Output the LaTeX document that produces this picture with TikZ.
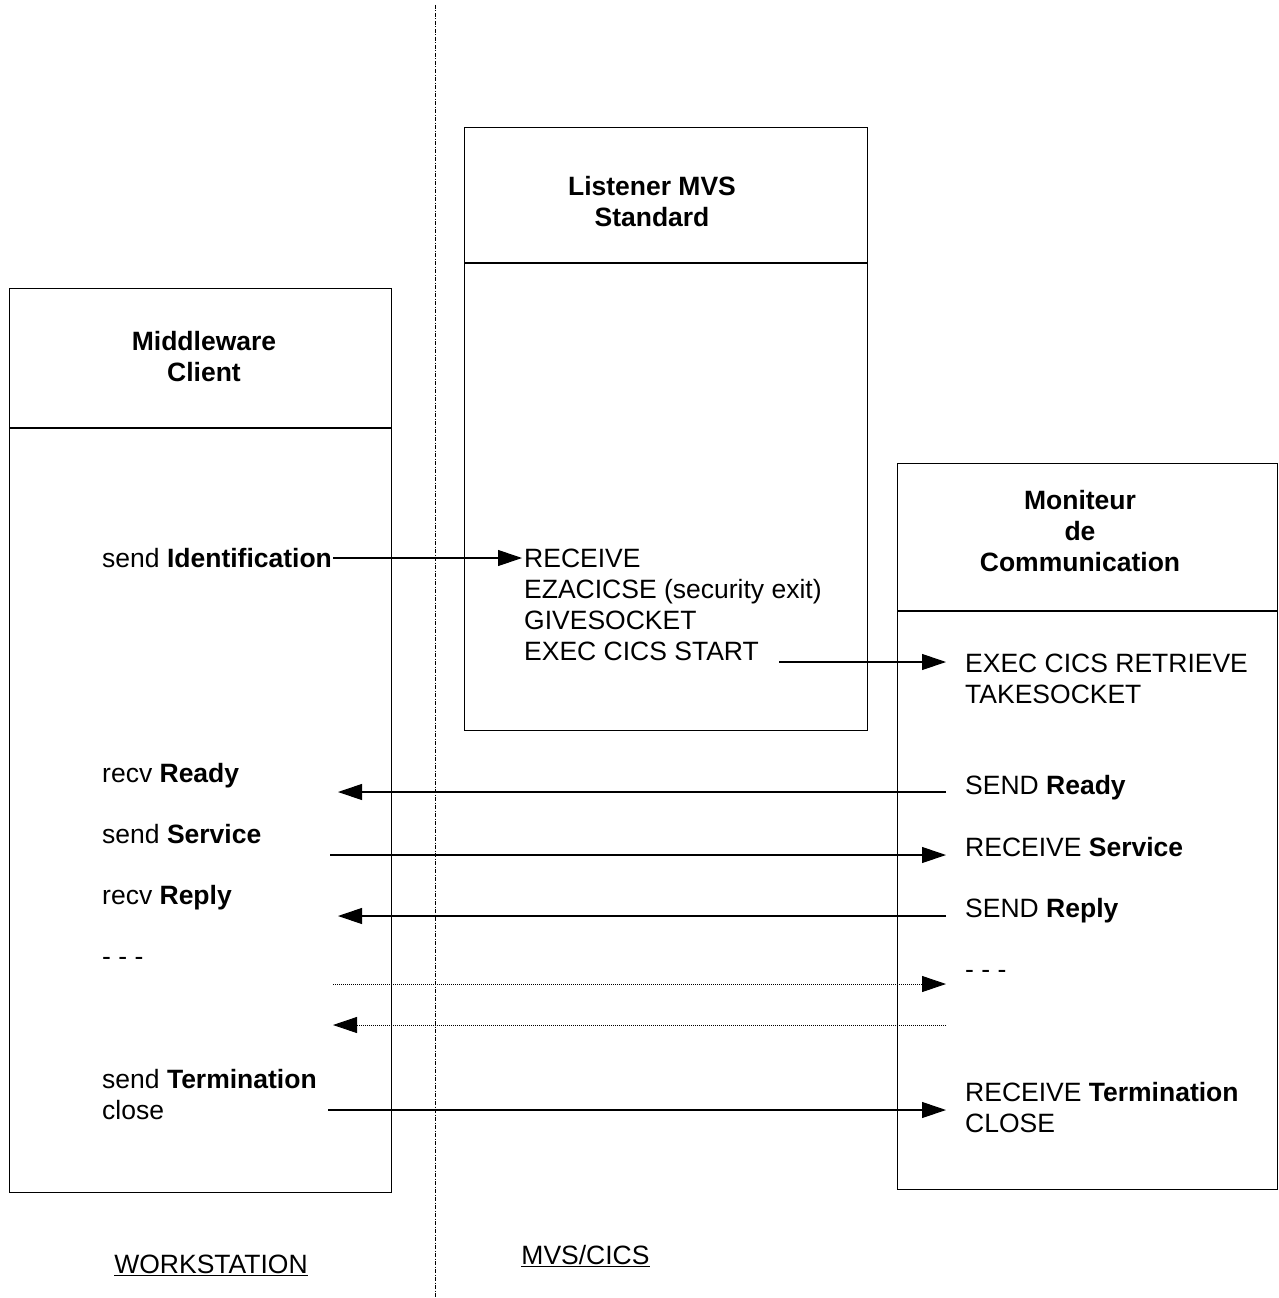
\documentclass[tikz,border=0pt]{standalone}
\usepackage{fontspec}
\setmainfont{Liberation Sans}
\usetikzlibrary{arrows.meta}
\begin{document}
\begin{tikzpicture}[x=1pt,y=-1pt,
  box/.style={draw,line width=1.1pt,inner sep=0pt,anchor=north west},
  rule/.style={line width=1.1pt},
  txt/.style={anchor=base west,inner sep=0pt,font=\fontsize{26.5}{31}\selectfont},
  ttl/.style={anchor=base,inner sep=0pt,font=\fontsize{26.5}{31}\selectfont\bfseries},
  lbl/.style={anchor=base,inner sep=0pt,font=\fontsize{26.5}{31}\selectfont},
  msg/.style={line width=1.1pt,-{Triangle[length=24pt,width=16pt]}},
  dmsg/.style={line width=0.9pt,dash pattern=on 1pt off 1pt,-{Triangle[length=24pt,width=16pt,sep=0pt]}},
  sep/.style={line width=0.9pt,dash pattern=on 4pt off 1.5pt on 1pt off 1.5pt}]
\useasboundingbox (0,0) rectangle (1279,1298);

% separator
\coordinate (septop) at (435,5);
\coordinate (sepbot) at (435,1298);
\draw[sep] (septop) -- (sepbot);

% boxes
\node[box,minimum width=382pt,minimum height=904pt] (mc) at (9,288) {};
\draw[rule] (9,428) -- (391,428);
\node[box,minimum width=403pt,minimum height=603pt] (ls) at (464,127) {};
\draw[rule] (464,263) -- (867,263);
\node[box,minimum width=380pt,minimum height=726pt] (mo) at (897,463) {};
\draw[rule] (897,611) -- (1277,611);

% titles
\node[ttl] (t1a) at (652,195.5) {Listener MVS};
\node[ttl] (t1b) at (652,226.5) {Standard};
\node[ttl] (t2a) at (204,350.5) {Middleware};
\node[ttl] (t2b) at (204,381.5) {Client};
\node[ttl] (t3a) at (1080,509.5) {Moniteur};
\node[ttl] (t3b) at (1080,540.5) {de};
\node[ttl] (t3c) at (1080,571.5) {Communication};

% client texts
\node[txt] (cid) at (102,567.5) {send \textbf{Identification}};
\node[txt] (crd) at (102,782.5) {recv \textbf{Ready}};
\node[txt] (csv) at (102,843.5) {send \textbf{Service}};
\node[txt] (crp) at (102,904.5) {recv \textbf{Reply}};
\node[txt] (cdd) at (102,965.5) {- - -};
\node[txt] (ctm) at (102,1088.5) {send \textbf{Termination}};
\node[txt] (ccl) at (102,1119.5) {close};

% listener texts
\node[txt] (lrc) at (524,567.5) {RECEIVE};
\node[txt] (lez) at (524,598.5) {EZACICSE (security exit)};
\node[txt] (lgv) at (524,629.5) {GIVESOCKET};
\node[txt] (lst) at (524,660.5) {EXEC CICS START};

% moniteur texts
\node[txt] (mrt) at (965,672.5) {EXEC CICS RETRIEVE};
\node[txt] (mtk) at (965,703.5) {TAKESOCKET};
\node[txt] (mrd) at (965,794.5) {SEND \textbf{Ready}};
\node[txt] (msv) at (965,856.5) {RECEIVE \textbf{Service}};
\node[txt] (mrp) at (965,917.5) {SEND \textbf{Reply}};
\node[txt] (mdd) at (965,978.5) {- - -};
\node[txt] (mtm) at (965,1101.5) {RECEIVE \textbf{Termination}};
\node[txt] (mcl) at (965,1132.5) {CLOSE};

% bottom labels
\node[lbl] (ws) at (211,1273.5) {\underline{WORKSTATION}};
\node[lbl] (mv) at (585.5,1264.5) {\underline{MVS/CICS}};

% arrow end points
\coordinate (a1s) at (333,558);  \coordinate (a1e) at (522,558);
\coordinate (a2s) at (779,662);  \coordinate (a2e) at (946,662);
\coordinate (a3s) at (946,792);  \coordinate (a3e) at (338,792);
\coordinate (a4s) at (330,855);  \coordinate (a4e) at (946,855);
\coordinate (a5s) at (946,916);  \coordinate (a5e) at (338,916);
\coordinate (a6s) at (333,984);  \coordinate (a6e) at (946,984);
\coordinate (a7s) at (946,1025); \coordinate (a7e) at (333,1025);
\coordinate (a8s) at (328,1110); \coordinate (a8e) at (946,1110);

\draw[msg] (a1s) -- (a1e);
\draw[msg] (a2s) -- (a2e);
\draw[msg] (a3s) -- (a3e);
\draw[msg] (a4s) -- (a4e);
\draw[msg] (a5s) -- (a5e);
\draw[dmsg] (a6s) -- (a6e);
\draw[dmsg] (a7s) -- (a7e);
\draw[msg] (a8s) -- (a8e);
\end{tikzpicture}
\end{document}
